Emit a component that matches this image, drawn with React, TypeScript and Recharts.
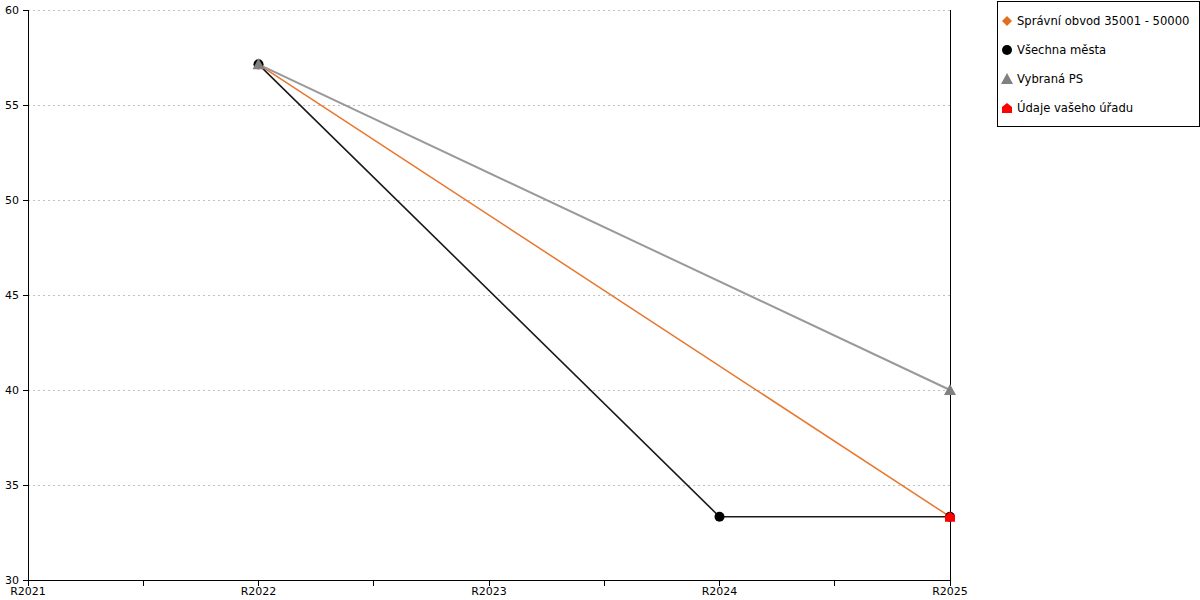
import React from "react";
import {
  LineChart,
  Line,
  XAxis,
  YAxis,
  CartesianGrid,
  ReferenceLine,
} from "recharts";

const categories = ["R2021", "R2022", "R2023", "R2024", "R2025"];
const obvod = [null, 57.14, null, null, 33.33];
const mesta = [null, 57.14, null, 33.33, 33.33];
const vybranaPs = [null, 57.14, null, null, 40];
const urad = [null, null, null, null, 33.33];
const yTicks = [30, 35, 40, 45, 50, 55, 60];
const xTicks = [0, 0.5, 1, 1.5, 2, 2.5, 3, 3.5, 4];

const data = categories.map((name, i) => ({
  x: i,
  name,
  obvod: obvod[i],
  mesta: mesta[i],
  ps: vybranaPs[i],
  urad: urad[i],
}));

const FONT = "'DejaVu Sans', Verdana, sans-serif";

type Shape = "diamond" | "circle" | "triangle" | "house";

function markerPath(shape: Shape, cx: number, cy: number) {
  switch (shape) {
    case "diamond":
      return `M${cx},${cy - 5}L${cx + 5},${cy}L${cx},${cy + 5}L${cx - 5},${cy}Z`;
    case "triangle":
      return `M${cx},${cy - 6}L${cx + 6},${cy + 5}L${cx - 6},${cy + 5}Z`;
    case "house":
      return `M${cx},${cy - 5}L${cx + 5},${cy - 1}L${cx + 5},${cy + 5}L${cx - 5},${cy + 5}L${cx - 5},${cy - 1}Z`;
    default:
      return "";
  }
}

function Marker({ shape, cx, cy, fill }: { shape: Shape; cx: number; cy: number; fill: string }) {
  if (shape === "circle") return <circle cx={cx} cy={cy} r={5} fill={fill} />;
  return <path d={markerPath(shape, cx, cy)} fill={fill} />;
}

const makeDot = (shape: Shape, fill: string) => (props: any) => {
  const { cx, cy, value, index } = props;
  if (value == null || cx == null || cy == null) return <g key={index} />;
  return <Marker key={index} shape={shape} cx={cx} cy={cy} fill={fill} />;
};

const series = [
  { key: "obvod", label: "Správní obvod 35001 - 50000", stroke: "#e8772e", marker: "#e07020", shape: "diamond" as Shape, width: 1.5 },
  { key: "mesta", label: "Všechna města", stroke: "#1a1a1a", marker: "#000", shape: "circle" as Shape, width: 1.6 },
  { key: "ps", label: "Vybraná PS", stroke: "#999", marker: "#808080", shape: "triangle" as Shape, width: 2 },
  { key: "urad", label: "Údaje vašeho úřadu", stroke: "#ff0000", marker: "#ff0000", shape: "house" as Shape, width: 1.5 },
];

const crisp = { stroke: "#000", shapeRendering: "crispEdges" };

function LegendBox() {
  return (
    <div
      style={{
        position: "absolute",
        left: 997,
        top: 1,
        border: "1px solid #000",
        background: "#fff",
        width: 203,
        height: 126,
        boxSizing: "border-box",
        fontFamily: FONT,
        fontSize: 11.6,
        color: "#000",
        paddingTop: 4,
      }}
    >
      {series.map((s) => (
        <div key={s.key} style={{ display: "flex", alignItems: "center", height: 29, paddingLeft: 2 }}>
          <svg width={14} height={14} style={{ marginRight: 3 }}>
            <Marker shape={s.shape} cx={7} cy={7} fill={s.marker} />
          </svg>
          <span>{s.label}</span>
        </div>
      ))}
    </div>
  );
}

export default function App() {
  return (
    <div style={{ position: "absolute", left: 0, top: 0, width: 1200, height: 600, background: "#fff" }}>
      <LineChart
        width={1200}
        height={600}
        data={data}
        margin={{ top: 10, right: 250, bottom: 0, left: 0 }}
        style={{ fontFamily: FONT }}
      >
        <CartesianGrid vertical={false} stroke="#c0c0c0" strokeDasharray="2 3" shapeRendering="crispEdges" />
        <XAxis
          dataKey="x"
          type="number"
          domain={[0, 4]}
          ticks={xTicks}
          interval={0}
          height={20}
          tickFormatter={(v: number) => (Number.isInteger(v) ? categories[v] : "")}
          tick={{ fontSize: 11, fill: "#000" }}
          tickLine={crisp}
          axisLine={crisp}
          tickSize={6}
          tickMargin={1}
        />
        <YAxis
          domain={[30, 60]}
          ticks={yTicks}
          width={28}
          tick={{ fontSize: 11, fill: "#000" }}
          tickLine={crisp}
          axisLine={crisp}
          tickSize={5}
          tickMargin={4}
        />
        <ReferenceLine x={4} stroke="#000" strokeOpacity={1} shapeRendering="crispEdges" />
        {series.map((s) => (
          <Line
            key={s.key}
            type="linear"
            dataKey={s.key}
            name={s.label}
            stroke={s.stroke}
            strokeWidth={s.width}
            connectNulls
            dot={makeDot(s.shape, s.marker)}
            activeDot={false}
            isAnimationActive={false}
          />
        ))}
      </LineChart>
      <LegendBox />
    </div>
  );
}
